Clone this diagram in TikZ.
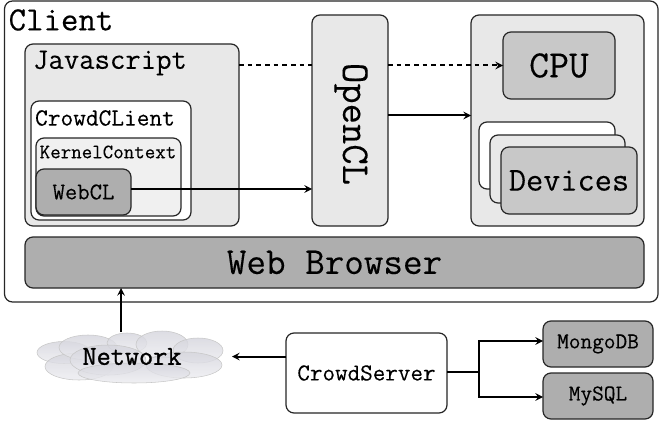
\documentclass[tikz,border=0pt]{standalone}
\usepackage{fontspec}
\setmonofont{Latin Modern Mono}[FakeBold=0.25]
\newfontfamily\netfont{Latin Modern Mono}[FakeBold=1.1]
\usetikzlibrary{positioning,calc,arrows}
\definecolor{lightbox}{HTML}{E8E8E8}
\definecolor{midbox}{HTML}{C8C8C8}
\definecolor{darkbox}{HTML}{AEAEAE}
\definecolor{puffhi}{HTML}{D4D4DC}
\definecolor{pufflo}{HTML}{ECECF0}
\tikzset{size/.style 2 args={minimum width=#1*0.75pt, minimum height=#2*0.75pt}}
\tikzset{dbox/.style={draw=black!85, line width=0.9pt, rounded corners=6, inner sep=0, outer sep=0, font=\ttfamily}}
\tikzset{txt/.style={inner sep=0, outer sep=0, font=\ttfamily}}
\tikzset{arr/.style={draw, -stealth, line width=1.5pt}}
\tikzset{arrd/.style={draw, line width=1.5pt, dash pattern=on 3.5pt off 3pt}}
\tikzset{puff/.style={draw=black!22, line width=0.4pt, top color=puffhi, bottom color=pufflo, fill opacity=0.8}}
\begin{document}
\begin{tikzpicture}[x=0.75pt, y=-0.75pt]
    \useasboundingbox (0,0) rectangle (659,424);
    %
    \node[dbox, fill=white, size={653.5}{301}] (client) at (331.25,151.5) {};
    \node[txt, font=\ttfamily\fontsize{25.4}{28}\selectfont] (clientl) at (61,20) {Client};
    %
    \node[dbox, fill=lightbox, size={214}{182}] (js) at (132,135) {};
    \node[txt, font=\ttfamily\fontsize{22.4}{25}\selectfont] (jsl) at (110,63) {Javascript};
    \node[dbox, fill=white, size={160}{119}] (crowdc) at (111,160.5) {};
    \node[txt, font=\ttfamily\fontsize{18.5}{21}\selectfont] (crowdcl) at (105,118) {CrowdCLient};
    \node[dbox, fill=black!6, size={145}{78}] (kernel) at (108.5,177) {};
    \node[txt, font=\ttfamily\fontsize{15.3}{18}\selectfont] (kernell) at (108,152) {KernelContext};
    \node[dbox, fill=darkbox, size={95}{46}, font=\ttfamily\fontsize{18}{21}\selectfont] (webcl) at (83.5,192) {WebCL};
    %
    \node[dbox, fill=lightbox, size={76}{211}] (opencl) at (350,120.5) {};
    \node[txt, rotate=-90, font=\ttfamily\fontsize{29.6}{32}\selectfont] (opencll) at (351,124) {OpenCL};
    %
    \node[dbox, fill=lightbox, size={173}{211}] (hw) at (557.5,120.5) {};
    \node[dbox, fill=midbox, size={112}{67}, font=\ttfamily\fontsize{29}{32}\selectfont] (cpu) at (559,65.5) {CPU};
    \node[dbox, fill=white, size={136}{67}] (dev1) at (547,155.5) {};
    \node[dbox, fill=lightbox, size={135}{68}] (dev2) at (557.5,169) {};
    \node[dbox, fill=midbox, size={136}{67}, font=\ttfamily\fontsize{25}{28}\selectfont] (dev3) at (569,180.5) {Devices};
    %
    \node[dbox, fill=darkbox, size={619}{51}, font=\ttfamily\fontsize{28.5}{31}\selectfont] (browser) at (334.5,262.5) {Web Browser};
    %
    \foreach \cx/\cy/\rx/\ry in {64/352.5/27/11, 79/366.5/34/13.5, 88/347.5/29/12.5, 127/343/20/10,
        108/360/38/15, 162/344.5/26/13.5, 198/350.5/25/12.5, 184/365/38/13, 134/373/56/10}
        \draw[puff] (\cx,\cy) ellipse ({\rx} and {\ry});
    \node[txt, font=\netfont\fontsize{20.6}{23}\selectfont] (network) at (132,356.5) {Network};
    %
    \node[dbox, fill=white, size={161}{80}, font=\ttfamily\fontsize{18.3}{21}\selectfont] (crowds) at (366.5,373) {CrowdServer};
    \node[dbox, fill=darkbox, size={110}{46}, font=\ttfamily\fontsize{17}{20}\selectfont] (mongo) at (598,344) {MongoDB};
    \node[dbox, fill=darkbox, size={110}{46}, font=\ttfamily\fontsize{17}{20}\selectfont] (mysql) at (598,396) {MySQL};
    %
    \coordinate (split) at (479,372);
    \coordinate (cloudtop) at (121,332);
    \coordinate (cloudright) at (232,356.5);
    %
    \draw[arrd] (cpu.west -| js.east) -- (cpu.west -| opencl.west);
    \draw[arrd, -stealth] (cpu.west -| opencl.east) -- (cpu.west);
    \draw[arr] ([yshift=2.25pt]webcl.east) -- ([yshift=2.25pt]webcl.east -| opencl.west);
    \draw[arr] ([yshift=3.75pt]opencl.east) -- ([yshift=3.75pt]hw.west);
    \draw[arr] (cloudtop) -- (cloudtop |- browser.south);
    \draw[arr] (crowds.west |- cloudright) -- (cloudright);
    \draw[line width=1.5pt] (crowds.east |- split) -- (split);
    \draw[arr] (split) |- ([yshift=2.25pt]mongo.west);
    \draw[arr] (split) |- ([yshift=-0.75pt]mysql.west);
\end{tikzpicture}
\end{document}
